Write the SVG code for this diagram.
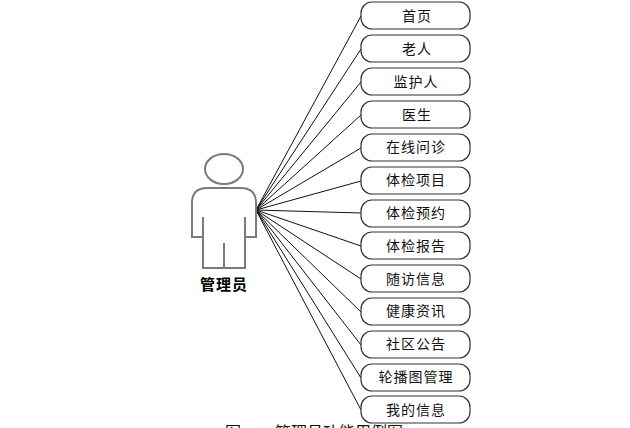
<svg xmlns="http://www.w3.org/2000/svg" width="630" height="428" viewBox="0 0 630 428">
<style>
.n rect{fill:#fff;stroke:#333;stroke-width:1.2}
.n text{font-family:"Noto Sans CJK SC",sans-serif;font-size:14px;letter-spacing:1px;text-anchor:middle;fill:#111}
#connectors line{stroke:#111;stroke-width:1}
.a{fill:none;stroke:#7a7a7a;stroke-width:2}
</style>
<rect width="630" height="428" fill="#fff"/>
<g id="connectors">
<line x1="256" y1="210" x2="361" y2="16"/>
<line x1="256" y1="210" x2="361" y2="49"/>
<line x1="256" y1="210" x2="361" y2="82"/>
<line x1="256" y1="210" x2="361" y2="115"/>
<line x1="256" y1="210" x2="361" y2="148"/>
<line x1="256" y1="210" x2="361" y2="181"/>
<line x1="256" y1="210" x2="361" y2="213"/>
<line x1="256" y1="210" x2="361" y2="246"/>
<line x1="256" y1="210" x2="361" y2="279"/>
<line x1="256" y1="210" x2="361" y2="312"/>
<line x1="256" y1="210" x2="361" y2="345"/>
<line x1="256" y1="210" x2="361" y2="378"/>
<line x1="256" y1="210" x2="361" y2="410"/>
</g>
<g id="actor">
<ellipse class="a" cx="224" cy="169" rx="19" ry="15"/>
<path class="a" d="M203 237H192V203Q192 188 207 188H241Q256 188 256 203V237H245M203 217V268H245V217M224 243V268"/>
<text x="224" y="290" font-family="'Noto Sans CJK SC',sans-serif" font-size="15" font-weight="700" text-anchor="middle" letter-spacing="1" fill="#000">管理员</text>
</g>
<g id="n1" class="n"><rect x="361" y="2" width="109" height="27" rx="11"/><text x="417" y="21">首页</text></g>
<g id="n2" class="n"><rect x="361" y="35" width="109" height="27" rx="11"/><text x="417" y="54">老人</text></g>
<g id="n3" class="n"><rect x="361" y="68" width="109" height="27" rx="11"/><text x="416" y="87">监护人</text></g>
<g id="n4" class="n"><rect x="361" y="101" width="109" height="27" rx="11"/><text x="417" y="120">医生</text></g>
<g id="n5" class="n"><rect x="361" y="134" width="109" height="27" rx="11"/><text x="416" y="152">在线问诊</text></g>
<g id="n6" class="n"><rect x="361" y="167" width="109" height="27" rx="11"/><text x="416" y="185">体检项目</text></g>
<g id="n7" class="n"><rect x="361" y="200" width="109" height="27" rx="11"/><text x="416" y="218">体检预约</text></g>
<g id="n8" class="n"><rect x="361" y="232" width="109" height="27" rx="11"/><text x="416" y="251">体检报告</text></g>
<g id="n9" class="n"><rect x="361" y="265" width="109" height="27" rx="11"/><text x="416" y="284">随访信息</text></g>
<g id="n10" class="n"><rect x="361" y="298" width="109" height="27" rx="11"/><text x="416" y="316">健康资讯</text></g>
<g id="n11" class="n"><rect x="361" y="331" width="109" height="27" rx="11"/><text x="416" y="349">社区公告</text></g>
<g id="n12" class="n"><rect x="361" y="364" width="109" height="27" rx="11"/><text x="416" y="382">轮播图管理</text></g>
<g id="n13" class="n"><rect x="361" y="396" width="109" height="27" rx="11"/><text x="416" y="415">我的信息</text></g>
<text x="225" y="438" font-family="'Noto Sans CJK SC',sans-serif" font-size="16" fill="#111">图<tspan x="245" dy="3" font-size="14">4-1</tspan><tspan x="275" dy="-3">管理员功能用例图</tspan></text>
</svg>
